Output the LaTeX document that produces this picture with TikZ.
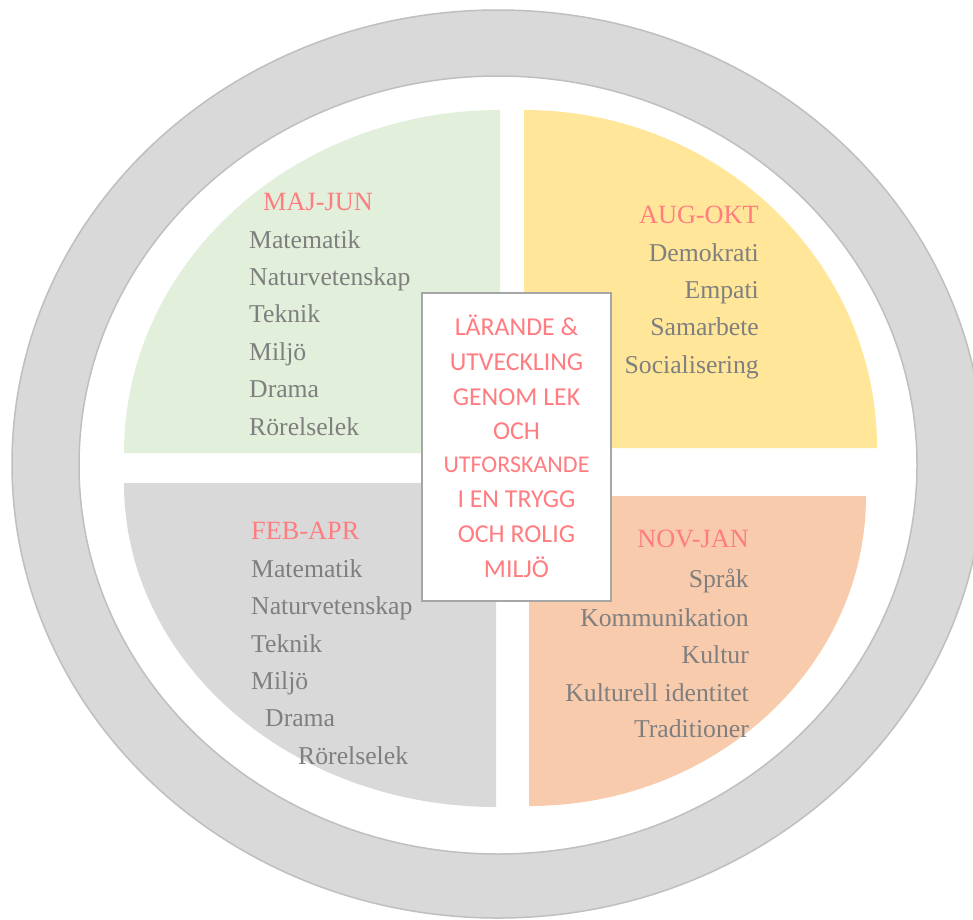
\documentclass[tikz,border=0pt]{standalone}
\usepackage{fontspec}
\setmainfont{Liberation Serif}
\newfontfamily\corefont{Carlito}
\definecolor{ringfill}{HTML}{D9D9D9}
\definecolor{ringline}{HTML}{BFBFBF}
\definecolor{qgreen}{HTML}{E2EFDA}
\definecolor{qyellow}{HTML}{FFE699}
\definecolor{qorange}{HTML}{F8CBAD}
\definecolor{qgray}{HTML}{D9D9D9}
\definecolor{rose}{HTML}{FF7C80}
\definecolor{itemgray}{HTML}{7F7F7F}
\definecolor{boxline}{HTML}{A6A6A6}
\begin{document}
\begin{tikzpicture}[x=1pt,y=-1pt,
  item/.style={text=itemgray, font=\fontsize{25.7}{30}\selectfont, inner sep=0pt},
  head/.style={item, text=rose, font=\fontsize{26.3}{30}\selectfont},
  lalign/.style={anchor=base west},
  ralign/.style={anchor=base east},
  coreline/.style={text=rose, font=\corefont\fontsize{25.8}{30}\selectfont, inner sep=0pt, anchor=base},
  corebox/.style={draw=boxline, line width=2pt, fill=white, inner sep=0pt, minimum width=189pt, minimum height=308pt}]
\useasboundingbox (0,0) rectangle (973,919);
\clip (0,0) rectangle (973,919);
\fill[white] (0,0) rectangle (973,919);
% outer ring
\fill[ringfill, even odd rule] (498,464) ellipse [x radius=486, y radius=454]
                               (498,465) ellipse [x radius=419, y radius=389];
\draw[ringline, line width=1.5pt] (498,464) ellipse [x radius=486, y radius=454];
\draw[ringline, line width=1.5pt] (498,465) ellipse [x radius=419, y radius=389];
% quadrants
\fill[qgreen] (500,453) -- (124,453) arc[start angle=180, end angle=270, x radius=376, y radius=343] -- cycle;
\fill[qyellow] (524,448) -- (524,110) arc[start angle=270, end angle=360, x radius=353, y radius=338] -- cycle;
\fill[qgray] (496,483) -- (124,483) arc[start angle=180, end angle=90, x radius=372, y radius=324] -- cycle;
\fill[qorange] (529,496) -- (866,496) arc[start angle=0, end angle=90, x radius=337, y radius=310] -- cycle;
% MAJ-JUN
\node[head, lalign] (gh) at (263,210) {MAJ-JUN};
\node[item, lalign] (g1) at (249,248) {Matematik};
\node[item, lalign] (g2) at (249,285) {Naturvetenskap};
\node[item, lalign] (g3) at (249,322) {Teknik};
\node[item, lalign] (g4) at (249,360) {Miljö};
\node[item, lalign] (g5) at (249,397) {Drama};
\node[item, lalign] (g6) at (249,435) {Rörelselek};
% AUG-OKT
\node[head, ralign] (yh) at (759,223) {AUG-OKT};
\node[item, ralign] (y1) at (759,261) {Demokrati};
\node[item, ralign] (y2) at (759,298) {Empati};
\node[item, ralign] (y3) at (759,335) {Samarbete};
\node[item, ralign] (y4) at (759,373) {Socialisering};
% FEB-APR
\node[head, lalign] (sh) at (251,539) {FEB-APR};
\node[item, lalign] (s1) at (251,577) {Matematik};
\node[item, lalign] (s2) at (251,614) {Naturvetenskap};
\node[item, lalign] (s3) at (251,652) {Teknik};
\node[item, lalign] (s4) at (251,689) {Miljö};
\node[item, lalign] (s5) at (265,726) {Drama};
\node[item, lalign] (s6) at (298,764) {Rörelselek};
% NOV-JAN
\node[head, ralign] (oh) at (749,547) {NOV-JAN};
\node[item, ralign] (o1) at (749,587) {Språk};
\node[item, ralign] (o2) at (749,626) {Kommunikation};
\node[item, ralign] (o3) at (749,663) {Kultur};
\node[item, ralign] (o4) at (749,701) {Kulturell identitet};
\node[item, ralign] (o5) at (749,737) {Traditioner};
% centre box
\node[corebox] (core) at (516.5,447) {};
\node[coreline] (c1) at (516.5,335) {LÄRANDE \&};
\node[coreline] (c2) at (516.5,370) {UTVECKLING};
\node[coreline] (c3) at (516.5,405) {GENOM LEK};
\node[coreline] (c4) at (516.5,439) {OCH};
\node[coreline, font=\corefont\fontsize{24}{30}\selectfont] (c5) at (516.5,472) {UTFORSKANDE};
\node[coreline] (c6) at (516.5,507) {I EN TRYGG};
\node[coreline] (c7) at (516.5,542) {OCH ROLIG};
\node[coreline] (c8) at (516.5,577) {MILJÖ};
\end{tikzpicture}
\end{document}
